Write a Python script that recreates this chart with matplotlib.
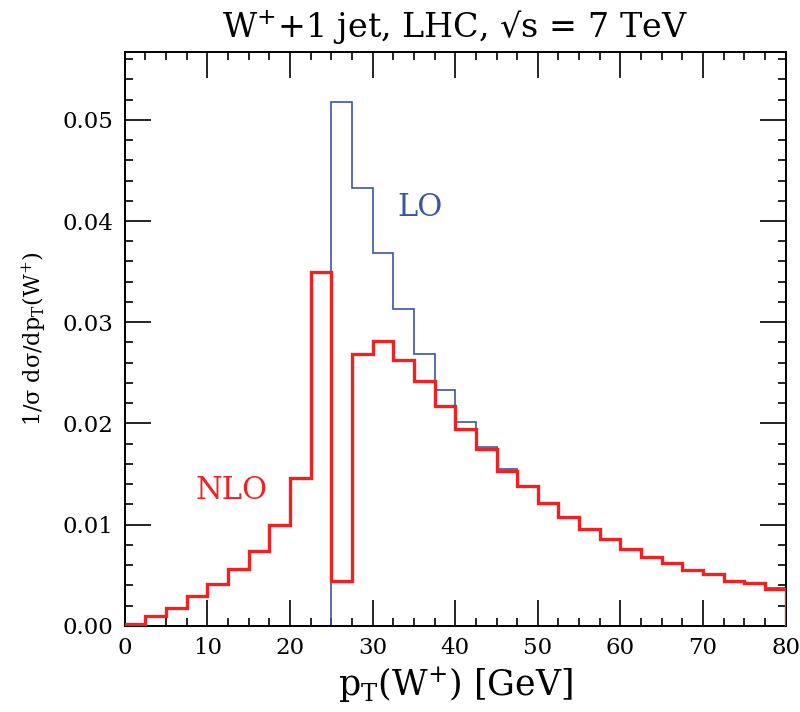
import numpy as np
import matplotlib
matplotlib.use("Agg")
import matplotlib.pyplot as plt
from matplotlib.ticker import MultipleLocator, FormatStrFormatter

# bin edges, 2.5 GeV bins from 0 to 80
pt_edges = np.arange(0, 80.01, 2.5)

lo_vals = [0, 0, 0, 0, 0, 0, 0, 0, 0, 0,
           0.0518, 0.0433, 0.0368, 0.0313, 0.0269, 0.0233, 0.0201, 0.0177,
           0.0155, 0.0137, 0.0120, 0.0107, 0.0095, 0.0085, 0.0076, 0.0068,
           0.0061, 0.0054, 0.0050, 0.0044, 0.0042, 0.0037]

nlo_vals = [0.0002, 0.0010, 0.0018, 0.0029, 0.0041, 0.0056, 0.0074, 0.0100,
            0.0146, 0.0350, 0.0044, 0.0269, 0.0281, 0.0263, 0.0242, 0.0217,
            0.0194, 0.0175, 0.0153, 0.0138, 0.0121, 0.0108, 0.0096, 0.0086,
            0.0076, 0.0068, 0.0062, 0.0055, 0.0051, 0.0044, 0.0042, 0.0036]

plt.rcParams['font.family'] = ['DejaVu Serif']
plt.rcParams['mathtext.fontset'] = 'dejavuserif'

fig = plt.figure(figsize=(8, 7.12), dpi=100)
ax = fig.add_axes([0.156, 0.121, 0.826, 0.806])

ax.stairs(lo_vals, pt_edges, color='#3a55a8', linewidth=1.2, zorder=2)
ax.stairs(nlo_vals, pt_edges, color='#ee2222', linewidth=2.4, zorder=3)

ax.set_xlim(0, 80)
ax.set_ylim(0, 0.0567)

ax.xaxis.set_major_locator(MultipleLocator(10))
ax.xaxis.set_minor_locator(MultipleLocator(2.5))
ax.yaxis.set_major_locator(MultipleLocator(0.01))
ax.yaxis.set_minor_locator(MultipleLocator(0.002))
ax.yaxis.set_major_formatter(FormatStrFormatter('%.2f'))
ax.xaxis.set_major_formatter(FormatStrFormatter('%d'))

ax.tick_params(which='both', direction='in', top=True, right=True,
               labelsize=16.5, width=1.2, pad=8)
ax.tick_params(which='major', length=19)
ax.tick_params(which='minor', length=6)
for s in ax.spines.values():
    s.set_linewidth(1.4)

ax.set_title('W$^{+}$+1 jet, LHC, √s = 7 TeV', fontsize=24, pad=10)
ax.set_xlabel('p$_{\\mathrm{T}}$(W$^{+}$) [GeV]', fontsize=25, labelpad=4)
ax.set_ylabel('1/σ dσ/dp$_{\\mathrm{T}}$(W$^{+}$)', fontsize=16, labelpad=10)

ax.text(33, 0.0405, 'LO', color='#3a55a8', fontsize=22)
ax.text(8.6, 0.0125, 'NLO', color='#ee2222', fontsize=22)

fig.savefig('out.png', dpi=100)
